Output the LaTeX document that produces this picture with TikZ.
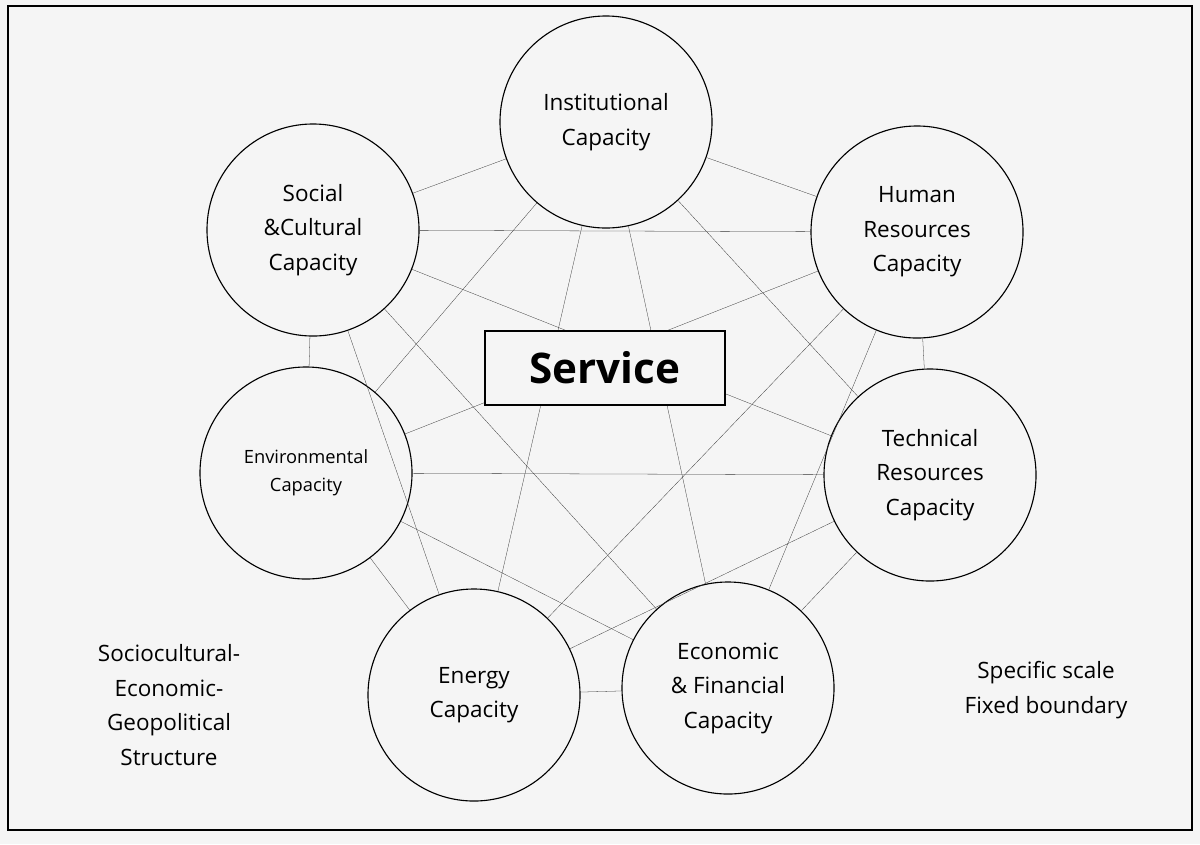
\documentclass[tikz,border=0pt]{standalone}
\usepackage{fontspec}
\setmainfont{Open Sans}
\begin{document}
\begin{tikzpicture}[x=0.025cm,y=-0.025cm,
    capnode/.style={circle,draw,thick,fill=black!4,minimum size=5.3cm,inner sep=0pt,
      align=center,font=\fontsize{16}{24.5}\selectfont},
    link/.style={draw=black!80,very thin}]

    % background and frame
    \useasboundingbox (0,0) rectangle (1200,844);
    \fill[black!4] (0,0) rectangle (1200,844);
    \draw[thick] (8,6) rectangle (1192,830);

    % the capacities
    \node[capnode] (inst) at (606,122) {Institutional\\Capacity};
    \node[capnode] (hum) at (917,232) {Human\\Resources\\Capacity};
    \node[capnode] (tech) at (930,475) {Technical\\Resources\\Capacity};
    \node[capnode] (econ) at (728,688) {Economic\\\& Financial\\Capacity};
    \node[capnode] (ener) at (474,695) {Energy\\Capacity};
    \node[capnode,font=\fontsize{13}{20}\selectfont] (env) at (306,473) {Environmental\\Capacity};
    \node[capnode] (soc) at (313,230) {Social\\\&Cultural\\Capacity};

    % the links
    \foreach \a/\b in {inst/hum,inst/tech,inst/econ,inst/ener,inst/env,inst/soc,
        hum/tech,hum/econ,hum/ener,hum/env,hum/soc,
        tech/econ,tech/ener,tech/env,tech/soc,
        econ/ener,econ/env,econ/soc,
        ener/env,ener/soc,env/soc}
      \draw[link] (\a) -- (\b);

    % the centre
    \node[draw,thick,fill=black!4,minimum width=6cm,minimum height=1.85cm,
      font=\fontsize{30}{34}\selectfont\bfseries] (serv) at (605,368) {Service};

    % the side texts
    \node[align=center,font=\fontsize{16}{24.5}\selectfont] (struct) at (169,705)
      {Sociocultural-\\Economic-\\Geopolitical\\Structure};
    \node[align=center,font=\fontsize{16}{24.5}\selectfont] (scale) at (1046,690)
      {Specific scale\\Fixed boundary};
  \end{tikzpicture}
\end{document}
